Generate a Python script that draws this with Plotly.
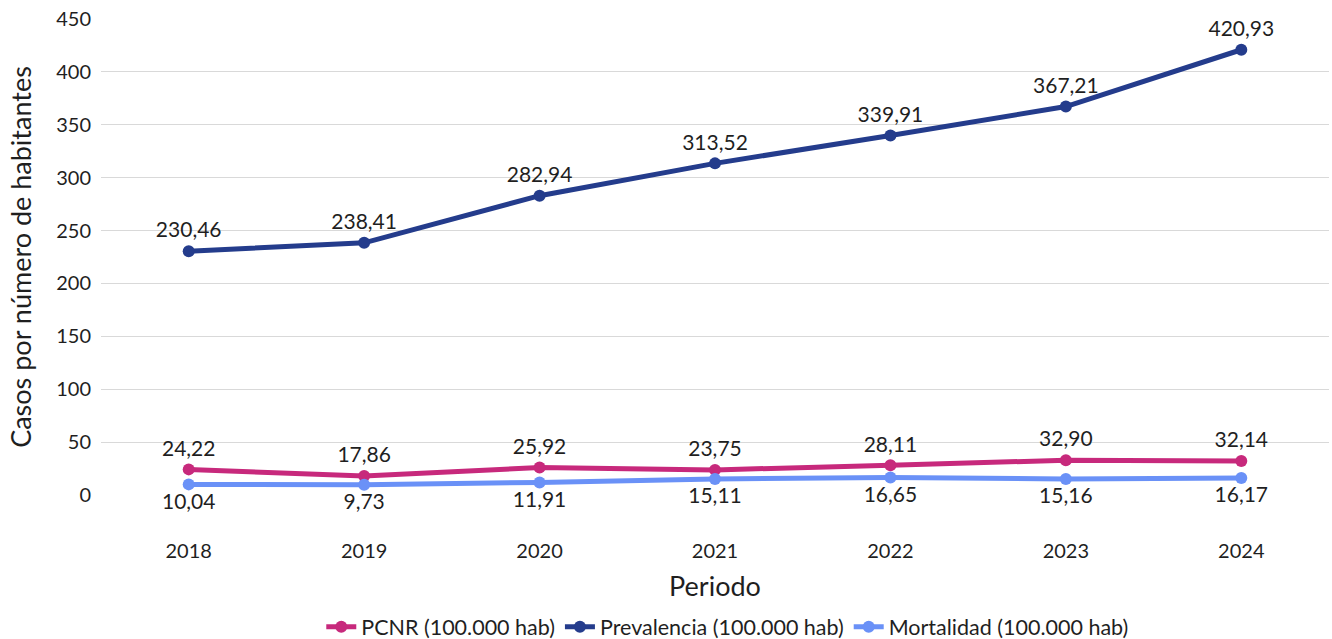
import plotly.graph_objects as go

years = ["2018", "2019", "2020", "2021", "2022", "2023", "2024"]
pcnr = [24.22, 17.86, 25.92, 23.75, 28.11, 32.90, 32.14]
prevalencia = [230.46, 238.41, 282.94, 313.52, 339.91, 367.21, 420.93]
mortalidad = [10.04, 9.73, 11.91, 15.11, 16.65, 15.16, 16.17]

FONT = "Lato"


def fmt(values):
    return [f"{v:.2f}".replace(".", ",") for v in values]


series = [
    ("PCNR (100.000 hab)", pcnr, "#C7297C", "top center"),
    ("Prevalencia (100.000 hab)", prevalencia, "#243C8C", "top center"),
    ("Mortalidad (100.000 hab)", mortalidad, "#6A91F7", "bottom center"),
]

fig = go.Figure()
for name, vals, color, pos in series:
    fig.add_trace(go.Scatter(
        x=years, y=vals, name=name, mode="lines+markers+text",
        line=dict(color=color, width=5),
        marker=dict(color=color, size=12),
        text=fmt(vals), textposition=pos,
        textfont=dict(family=FONT, size=21, color="#1f1f1f"),
        cliponaxis=False,
    ))

fig.update_layout(
    width=1332, height=639,
    margin=dict(l=101, r=3, t=19, b=144, autoexpand=False),
    plot_bgcolor="white", paper_bgcolor="white",
    font=dict(family=FONT, color="#1f1f1f"),
    showlegend=True,
    legend=dict(orientation="h", x=0.51, xanchor="center", y=-0.277, yanchor="middle",
                font=dict(family=FONT, size=21.5), itemwidth=30,
                traceorder="normal"),
    xaxis=dict(
        type="category", range=[-0.5, 6.5], showgrid=False, showline=False,
        zeroline=False, ticks="", ticklabelstandoff=42,
        tickfont=dict(family=FONT, size=20),
        title=dict(text="Periodo", font=dict(family=FONT, size=27), standoff=16),
    ),
    yaxis=dict(
        range=[0, 450], dtick=50, showgrid=True, gridcolor="#d9d9d9", gridwidth=1,
        zeroline=False, showline=False, ticks="", ticklabelstandoff=9,
        tickfont=dict(family=FONT, size=20),
        title=dict(text="Casos por número de habitantes", font=dict(family=FONT, size=27),
                   standoff=16),
    ),
)

fig.write_html("out.html")
